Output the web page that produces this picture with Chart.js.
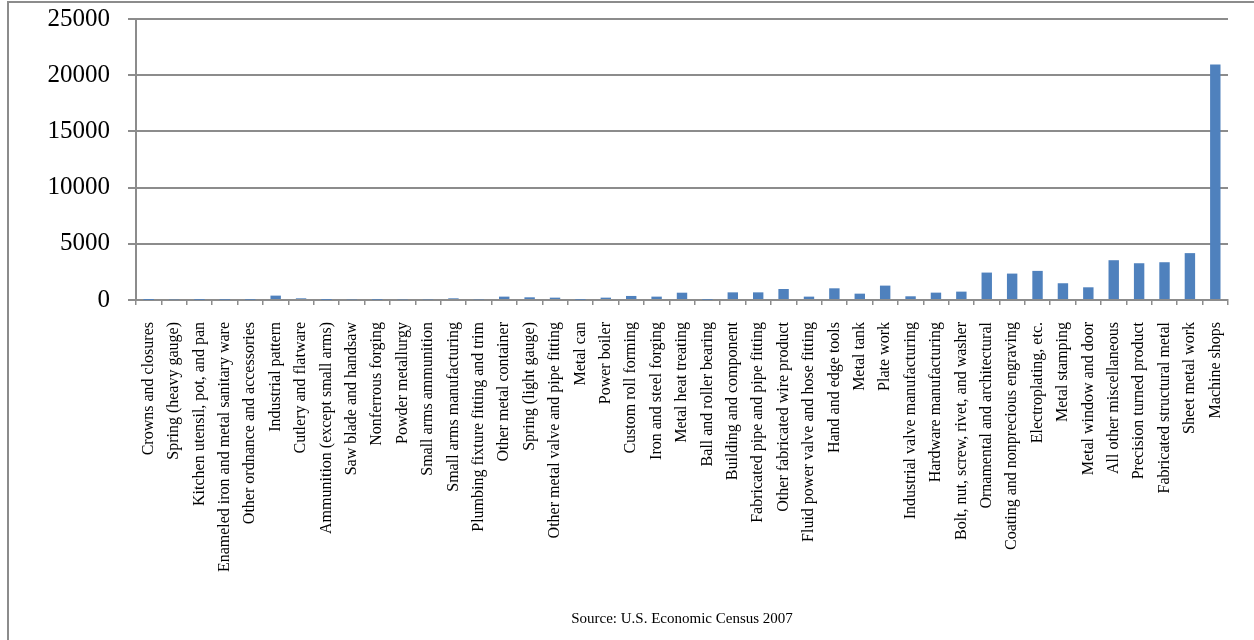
<!DOCTYPE html>
<html>
<head>
<meta charset="utf-8">
<script src="https://cdn.jsdelivr.net/npm/chart.js@4/dist/chart.umd.min.js"></script>
<style>
  html, body { margin: 0; padding: 0; background: #fff; }
  #wrap { position: relative; width: 1254px; height: 640px; overflow: hidden; }
  #frame { position: absolute; left: 7px; top: 1px; width: 1400px; height: 800px; border: 2px solid #8c8c8c; box-sizing: border-box; }
  canvas { position: absolute; left: 0; top: 0; }
</style>
</head>
<body>
<div id="wrap">
  <div id="frame"></div>
  <canvas id="myChart" width="1254" height="640"></canvas>
</div>
<script>
'use strict';
// industries (NAICS fabricated metal), sorted small to large
let industries = ['Crowns and closures', 'Spring (heavy gauge)', 'Kitchen utensil, pot, and pan',
  'Enameled iron and metal sanitary ware', 'Other ordnance and accessories', 'Industrial pattern',
  'Cutlery and flatware', 'Ammunition (except small arms)', 'Saw blade and handsaw', 'Nonferrous forging',
  'Powder metallurgy', 'Small arms ammunition', 'Small arms manufacturing', 'Plumbing fixture fitting and trim',
  'Other metal container', 'Spring (light gauge)', 'Other metal valve and pipe fitting', 'Metal can',
  'Power boiler', 'Custom roll forming', 'Iron and steel forging', 'Metal heat treating',
  'Ball and roller bearing', 'Building and component', 'Fabricated pipe and pipe fitting',
  'Other fabricated wire product', 'Fluid power valve and hose fitting', 'Hand and edge tools', 'Metal tank',
  'Plate work', 'Industrial valve manufacturing', 'Hardware manufacturing', 'Bolt, nut, screw, rivet, and washer',
  'Ornamental and architectural', 'Coating and nonprecious engraving', 'Electroplating, etc.', 'Metal stamping',
  'Metal window and door', 'All other miscellaneous', 'Precision turned product', 'Fabricated structural metal',
  'Sheet metal work', 'Machine shops'];
let establishments = [10, 60, 20, 30, 30, 390, 150, 20, 60, 30,
  60, 60, 150, 60, 300, 240, 210, 30, 210, 360,
  300, 650, 30, 680, 680, 980, 300, 1040, 565, 1280,
  330, 655, 745, 2440, 2350, 2590, 1490, 1130, 3540, 3270,
  3360, 4170, 20950];
let yTicks = [0, 5000, 10000, 15000, 20000, 25000];
let sourceText = 'Source: U.S. Economic Census 2007';

let serif = '"Liberation Serif", "Times New Roman", serif';
let ctx = document.getElementById('myChart').getContext('2d');
let myChart = new Chart(ctx, {
  type: 'bar',
  data: {
    labels: industries,
    datasets: [{
      data: establishments,
      backgroundColor: '#4f81bd',
      borderWidth: 0,
      categoryPercentage: 1,
      barPercentage: 0.41
    }]
  },
  options: {
    responsive: false,
    animation: false,
    layout: { padding: { top: 19, right: 26, left: 0, bottom: 0 } },
    plugins: {
      legend: { display: false },
      tooltip: { enabled: false },
      title: {
        display: true,
        text: sourceText,
        position: 'bottom',
        fullSize: false,
        color: '#000',
        font: { family: serif, size: 15, weight: 'normal' },
        padding: { top: 0, bottom: 12 }
      }
    },
    scales: {
      x: {
        afterFit: function (scale) {
          scale.height = 310;
          scale.paddingLeft = 0; scale.paddingRight = 0;
        },
        grid: { drawOnChartArea: false, drawTicks: true, tickLength: 5, color: '#8c8c8c', lineWidth: 1.5 },
        border: { color: '#8c8c8c', width: 2 },
        ticks: {
          autoSkip: false, maxRotation: 90, minRotation: 90, padding: 17,
          color: '#000', font: { family: serif, size: 16 }
        }
      },
      y: {
        min: 0, max: 25000,
        afterFit: function (scale) {
          scale.width = 136;
          scale.paddingTop = 0; scale.paddingBottom = 0;
        },
        afterBuildTicks: function (scale) { scale.ticks = yTicks.map(v => ({ value: v })); },
        grid: { color: '#8c8c8c', lineWidth: 2, tickLength: 8 },
        border: { color: '#8c8c8c', width: 2 },
        ticks: {
          padding: 18, color: '#000', font: { family: serif, size: 25 },
          callback: v => String(v)
        }
      }
    }
  }
});
</script>
</body>
</html>
